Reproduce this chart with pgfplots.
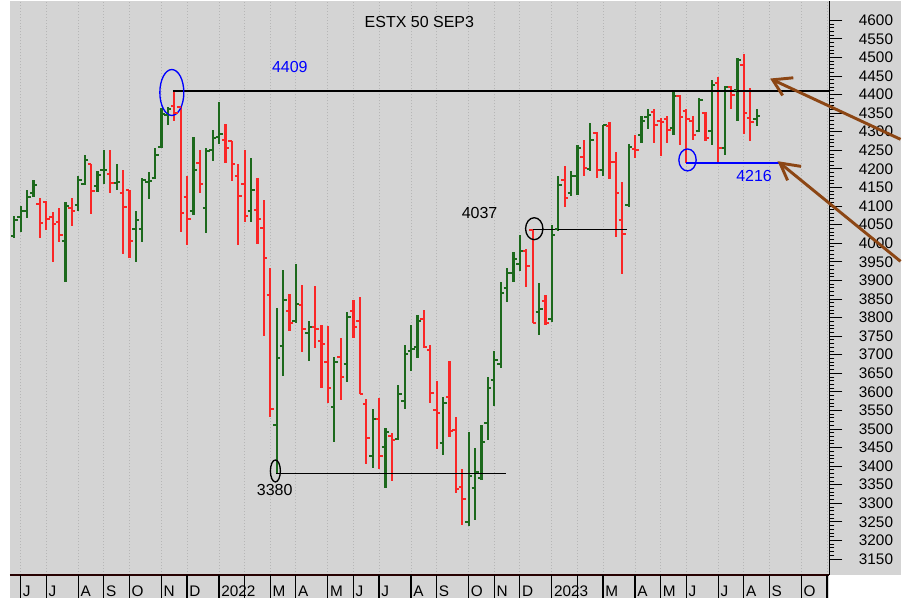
\documentclass[border=0pt]{standalone}
\usepackage{pgfplots}
\pgfplotsset{compat=1.18}
\usepackage{pgfplotstable}
\usepackage{fontspec}
\setmainfont{Liberation Sans}
\definecolor{bg}{RGB}{212,212,212}
\definecolor{upc}{RGB}{28,105,28}
\definecolor{dnc}{RGB}{250,38,38}
\definecolor{brn}{RGB}{140,70,20}
\definecolor{gridc}{RGB}{182,182,182}
\pgfdeclareplotmark{otick}{\pgfpathmoveto{\pgfqpoint{-2.6pt}{0pt}}\pgfpathlineto{\pgfqpoint{0pt}{0pt}}\pgfusepathqstroke}
\pgfdeclareplotmark{ctick}{\pgfpathmoveto{\pgfqpoint{0pt}{0pt}}\pgfpathlineto{\pgfqpoint{2.6pt}{0pt}}\pgfusepathqstroke}
% weekly bars, x = week index (0 = first week of June 2021)
\pgfplotstableread{
x o h l c
-1 4019 4072 4015 4063
0 4070 4099 4030 4086
1 4086 4142 4069 4124
2 4136 4169 4124 4156
7 4006 4110 3896 4099
9 4102 4180 4086 4171
10 4159 4238 4157 4225
12 4155 4194 4137 4184
13 4196 4250 4160 4198
15 4163 4214 4142 4164
18 4039 4086 3949 4063
19 4039 4176 4003 4171
20 4164 4191 4120 4167
21 4176 4257 4173 4236
22 4258 4364 4257 4348
23 4345 4366 4317 4362
27 4086 4287 4077 4198
29 4094 4257 4027 4248
30 4250 4305 4220 4284
31 4287 4379 4266 4293
36 4086 4230 4057 4144
40 3510 3826 3380 3690
41 3724 3929 3642 3848
43 3790 3945 3786 3837
45 3758 3791 3683 3775
49 3560 3694 3466 3679
51 3674 3815 3627 3801
55 3427 3553 3396 3528
57 3452 3502 3342 3492
59 3472 3618 3470 3594
60 3575 3725 3553 3701
61 3710 3779 3656 3716
62 3721 3806 3692 3790
66 3463 3586 3430 3570
70 3250 3491 3239 3374
71 3340 3448 3255 3385
72 3367 3510 3363 3466
73 3517 3640 3470 3609
74 3631 3710 3562 3685
75 3674 3896 3665 3866
76 3879 3934 3842 3920
77 3921 3975 3896 3958
78 3943 4021 3924 3979
81 3815 3894 3754 3822
83 3797 4048 3788 4021
84 4039 4180 4033 4157
86 4136 4194 4126 4180
87 4180 4263 4129 4257
89 4200 4323 4193 4278
91 4198 4319 4180 4317
95 4102 4268 4097 4260
97 4290 4341 4269 4328
98 4339 4360 4308 4345
102 4310 4406 4290 4395
106 4303 4391 4299 4384
108 4303 4438 4263 4427
110 4255 4422 4236 4419
112 4411 4497 4330 4494
115 4335 4360 4315 4341
}\up
\pgfplotstableread{
x o h l c
3 4106 4122 4015 4055
4 4110 4113 4036 4066
5 4070 4084 3949 4051
6 4056 4094 4003 4021
8 4094 4122 4047 4086
11 4212 4214 4078 4140
14 4187 4252 4136 4163
16 4136 4198 3972 4097
17 4144 4144 3961 4006
24 4368 4409 4328 4351
25 4366 4368 4030 4082
26 4124 4182 3996 4066
28 4216 4250 4135 4160
32 4278 4321 4215 4256
33 4274 4276 4167 4214
34 4182 4214 3994 4126
35 4160 4250 4057 4072
37 4090 4176 3997 4066
38 4041 4117 3750 3960
39 3860 3933 3531 3555
42 3817 3864 3763 3786
44 3833 3887 3707 3770
46 3775 3884 3719 3768
47 3737 3779 3609 3730
48 3679 3777 3569 3609
50 3694 3745 3578 3640
52 3817 3848 3745 3775
53 3791 3855 3594 3594
54 3567 3582 3405 3475
56 3528 3584 3391 3428
58 3481 3488 3361 3470
63 3797 3821 3719 3721
64 3712 3725 3569 3597
65 3551 3629 3445 3543
67 3586 3683 3479 3494
68 3497 3533 3327 3338
69 3343 3391 3242 3311
79 3978 3983 3882 3939
80 4035 4037 3785 3785
82 3844 3860 3781 3784
85 4171 4207 4097 4121
88 4233 4279 4180 4202
90 4296 4299 4176 4198
92 4314 4326 4173 4218
93 4218 4245 4017 4136
94 4063 4164 3916 4026
96 4254 4292 4230 4252
99 4353 4360 4270 4317
100 4328 4337 4234 4326
101 4333 4341 4269 4305
103 4395 4400 4265 4340
104 4355 4362 4216 4335
105 4330 4341 4278 4290
107 4349 4354 4276 4284
109 4432 4446 4216 4255
111 4419 4424 4362 4398
113 4480 4510 4295 4351
114 4337 4418 4276 4326
}\down
\begin{document}
\begin{tikzpicture}
\path (0,0) rectangle (676.5pt,448.5pt);
\fill[bg] (7.5pt,17.25pt) rectangle (676.5pt,448.5pt);
\fill[bg] (7.5pt,0pt) rectangle (622.5pt,17.25pt);
\begin{axis}[
  at={(7.5pt,17.25pt)}, anchor=south west,
  scale only axis, width=615pt, height=431.25pt,
  xmin=-1.67, xmax=126.35, ymin=3107, ymax=4653,
  clip=false,
  axis x line*=bottom, axis y line*=right,
  x axis line style={line width=1.4pt, color=black!85!red},
  y axis line style={line width=0.8pt, black},
  xtick={0,4,9,13,17,22,26,31,35,39,43,48,52,56,61,65,70,74,78,83,87,91,96,100,104,109,113,117,122,126},
  xticklabels={J,J,A,S,O,N,D,2022,,M,A,M,J,J,A,S,O,N,D,2023,,M,A,M,J,J,A,S,O,},
  xtick style={draw=none},
  xmajorgrids,
  grid style={gridc, line width=0.7pt, dash pattern=on 0.75pt off 1.5pt},
  xticklabel style={anchor=north west, inner sep=0pt, xshift=1.5pt, yshift=2pt, font=\fontsize{11.5pt}{13pt}\selectfont},
  ytick={3150,3200,...,4600},
  minor y tick num=4,
  tick align=outside,
  major tick length=9.75pt, minor tick length=3.75pt,
  ytick style={black, line width=0.6pt},
  yticklabel style={anchor=west, xshift=9pt, font=\fontsize{11.5pt}{13pt}\selectfont},
  /pgf/number format/1000 sep={},
  /pgf/number format/assume math mode=true,
]
\addplot[upc, only marks, mark=ctick, mark options={line width=1.5pt},
  error bars/.cd, y dir=both, y explicit, error mark=none,
  error bar style={line width=1.6pt, upc}]
  table[x=x, y=c, y error plus expr=\thisrow{h}-\thisrow{c}, y error minus expr=\thisrow{c}-\thisrow{l}] {\up};
\addplot[upc, only marks, mark=otick, mark options={line width=1.5pt}] table[x=x, y=o] {\up};
\addplot[dnc, only marks, mark=ctick, mark options={line width=1.5pt},
  error bars/.cd, y dir=both, y explicit, error mark=none,
  error bar style={line width=1.6pt, dnc}]
  table[x=x, y=c, y error plus expr=\thisrow{h}-\thisrow{c}, y error minus expr=\thisrow{c}-\thisrow{l}] {\down};
\addplot[dnc, only marks, mark=otick, mark options={line width=1.5pt}] table[x=x, y=o] {\down};
% support / resistance lines
\addplot[black, line width=1.1pt] coordinates {(23.8,4409) (126.35,4409)};
\addplot[black, line width=1.1pt] coordinates {(79.94,4037) (94.7,4037)};
\addplot[black, line width=1.1pt] coordinates {(39.97,3380) (75.77,3380)};
\addplot[blue, line width=1.1pt] coordinates {(104,4216) (118.55,4216)};
\draw[blue, line width=1pt] (axis cs:23.62,4405.5) ellipse[x radius=9pt, y radius=17.25pt];
\draw[black, line width=1pt] (axis cs:80.25,4039) ellipse[x radius=6.5pt, y radius=8.25pt];
\draw[black, line width=1pt] (axis cs:39.8,3387) ellipse[x radius=3.75pt, y radius=8.25pt];
\draw[blue, line width=1pt] (axis cs:104.2,4224) ellipse[x radius=6.5pt, y radius=8.25pt];
\node[font=\fontsize{12pt}{14pt}\selectfont] at (axis cs:62.3,4594) {ESTX 50 SEP3};
\node[blue, font=\fontsize{12pt}{14pt}\selectfont] at (axis cs:42.05,4473) {4409};
\node[font=\fontsize{12pt}{14pt}\selectfont] at (axis cs:71.7,4080) {4037};
\node[font=\fontsize{12pt}{14pt}\selectfont] at (axis cs:39.7,3336) {3380};
\node[blue, font=\fontsize{12pt}{14pt}\selectfont] at (axis cs:114.6,4182) {4216};
\pgfplotsinvokeforeach{0,4,9,13,17,22,26,31,35,39,43,48,52,56,61,65,70,74,78,83,87,91,96,100,104,109,113,117,122,126}{
  \draw[black, line width=0.9pt] (axis cs:#1,3107) -- ++(0pt,-17.25pt);
}
\end{axis}
% arrows
\draw[brn, line width=2.2pt] (676pt,344.3pt) -- (580pt,389pt);
\draw[brn, line width=2.2pt] (595.5pt,390.5pt) -- (580pt,389pt) -- (587.5pt,377.25pt);
\draw[brn, line width=2.2pt] (676pt,252.7pt) -- (585.5pt,326.5pt);
\draw[brn, line width=2.2pt] (601.3pt,324pt) -- (585.5pt,326.5pt) -- (591.2pt,313.5pt);
\end{tikzpicture}
\end{document}
